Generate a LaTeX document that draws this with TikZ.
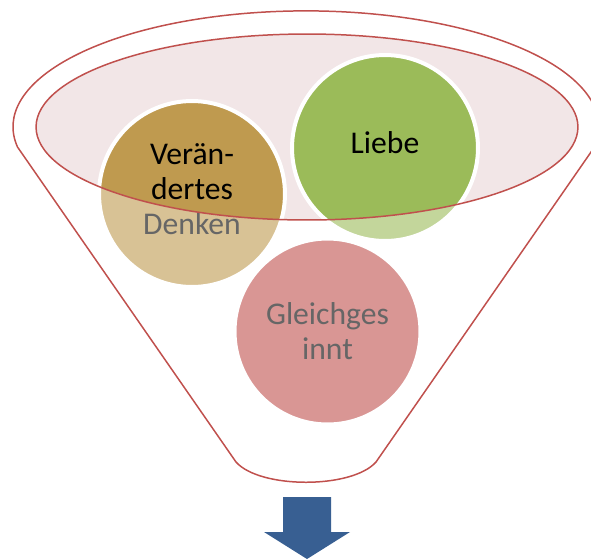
\documentclass[tikz,border=0pt]{standalone}
\usepackage{fontspec}
\setmainfont{Carlito}
\definecolor{denkgold}{HTML}{BF9A4F}
\definecolor{liebegreen}{HTML}{9BBB59}
\definecolor{gleichred}{HTML}{C0504D}
\definecolor{rimpink}{HTML}{F2E6E7}
\definecolor{funnelred}{HTML}{C0504D}
\definecolor{arrowblue}{HTML}{385F92}

\begin{document}
\begin{tikzpicture}[
    x=0.02cm, y=-0.02cm,
    every node/.style={font=\fontsize{18}{20}\selectfont},
    bubble/.style={
        circle, draw=white, fill=#1, line width=0.08cm,
        minimum size=3.72cm, inner sep=0pt, align=center
    },
    lift/.style={text depth=0.2cm},
    rim/.style={draw=funnelred, line width=0.85pt},
]
\useasboundingbox (0,0) rectangle (591,559);

% === Funnel opening ===
\fill[rimpink] (307,127) ellipse [x radius=5.42cm, y radius=1.86cm];

% === Bubbles ===
\node[bubble=denkgold, lift] (denken) at (192,194) {Verän-\\dertes\\Denken};
\node[bubble=liebegreen, lift] (liebe) at (385,148) {Liebe};
\node[bubble=gleichred] (gleich) at (327.5,331.5) {Gleichges\\innt};

% === Funnel body, washes out what sits below the opening ===
\fill[white, fill opacity=0.4, even odd rule]
    (17.5,147) arc[start angle=190, end angle=-10, x radius=5.86cm, y radius=2.32cm]
    -- (376,462) .. controls (352,489) and (260,489) .. (236,462) -- cycle
    (307,127) ellipse [x radius=5.42cm, y radius=1.86cm];

% outlines
\draw[rim]
    (17.5,147) arc[start angle=190, end angle=-10, x radius=5.86cm, y radius=2.32cm]
    -- (376,462) .. controls (352,489) and (260,489) .. (236,462) -- cycle;
\draw[rim] (307,127) ellipse [x radius=5.42cm, y radius=1.86cm];

% === Down arrow ===
\fill[arrowblue] (283,497) -- (331,497) -- (331,532) -- (350,532)
    -- (307,559) -- (264,532) -- (283,532) -- cycle;

\end{tikzpicture}
\end{document}
